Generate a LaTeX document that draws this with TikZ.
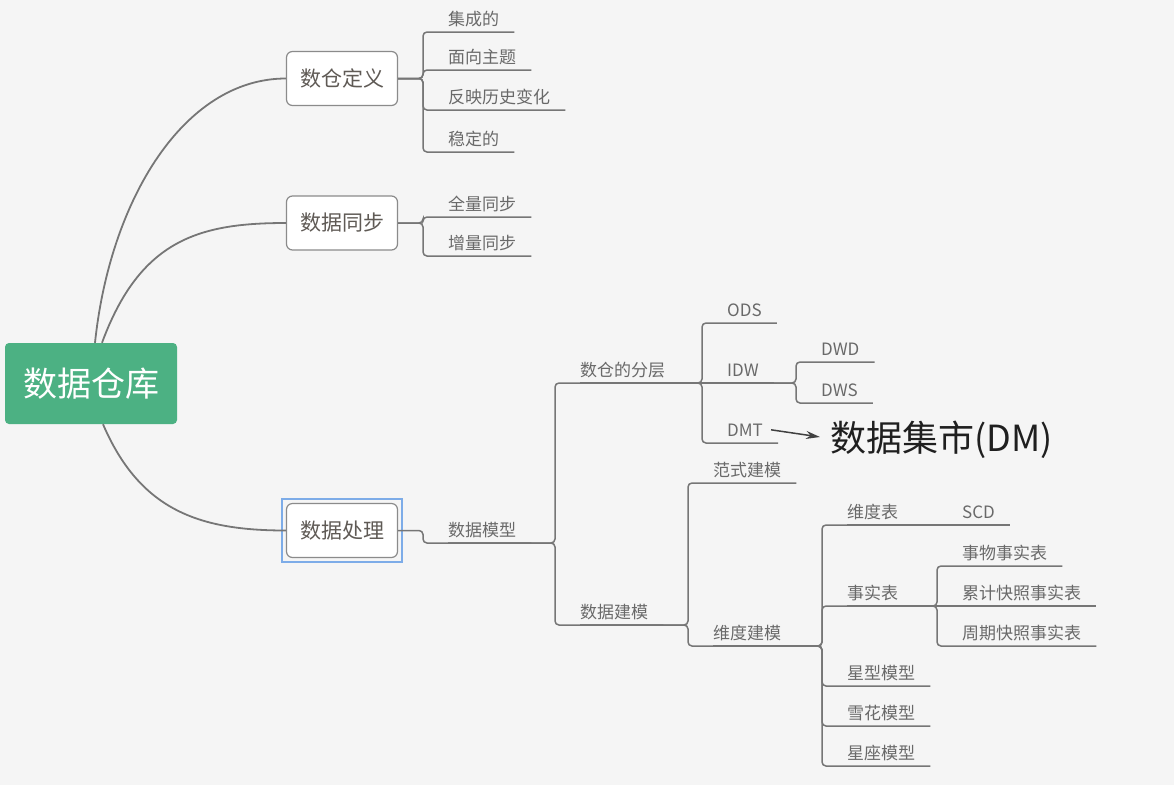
\documentclass[tikz,border=0pt]{standalone}
\usepackage{fontspec}
\setmainfont{Noto Sans CJK SC}
\usepackage{tikz}
\usetikzlibrary{arrows.meta}
\definecolor{bggray}{RGB}{245,245,245}
\definecolor{rootgreen}{RGB}{76,177,131}
\definecolor{linegray}{RGB}{118,118,118}
\definecolor{textgray}{RGB}{105,105,105}
\definecolor{boxtext}{RGB}{95,90,85}
\definecolor{selblue}{RGB}{125,172,232}

\begin{document}
\begin{tikzpicture}[x=1pt, y=-1pt,
  rootbox/.style={fill=rootgreen, rounded corners=4pt, minimum width=172pt, minimum height=81pt, text=white, font=\fontsize{34}{34}\selectfont},
  topic/.style={draw=linegray!85, line width=1.2pt, fill=white, rounded corners=6pt, minimum width=111pt, minimum height=54pt, text=boxtext, font=\fontsize{21}{21}\selectfont},
  leaf/.style={anchor=south west, inner xsep=0pt, inner ysep=3pt, text height=13pt, text depth=3pt, text=textgray, font=\fontsize{17}{17}\selectfont},
  curve/.style={draw=linegray, line width=1.8pt},
  link/.style={draw=linegray, line width=1.5pt, rounded corners=4pt},
]
\fill[bggray] (0,0) rectangle (1174,785);

\node[rootbox] (root) at (91,383.5) {数据仓库};
\node[topic] (dd) at (342,78.5) {数仓定义};
\node[topic] (ds) at (342,223) {数据同步};
\node[topic] (dp) at (342,530.5) {数据处理};
\draw[selblue, line width=1.5pt] ([xshift=-4pt,yshift=-4pt]dp.south west) rectangle ([xshift=4pt,yshift=4pt]dp.north east);

\draw[curve] ([xshift=4pt]root.north) .. controls +(15,-143) and +(-102,0) .. (dd.west);
\draw[curve] ([xshift=11pt]root.north) .. controls +(38,-103) and +(-87,0) .. (ds.west);
\draw[curve] ([xshift=12pt]root.south) .. controls +(37,86) and +(-87,0) .. (dp.west);

% level 2
\node[leaf] (jc) at (448,32) {集成的};
\node[leaf] (mxzt) at (448,70) {面向主题};
\node[leaf] (fybh) at (448,110) {反映历史变化};
\node[leaf] (wdd) at (448,152) {稳定的};
\node[leaf] (qltb) at (448,217) {全量同步};
\node[leaf] (zltb) at (448,256) {增量同步};
\node[leaf] (sjmx) at (448,543) {数据模型};

% level 3
\node[leaf] (fc) at (580,383) {数仓的分层};
\node[leaf] (sjjm) at (580,625) {数据建模};
\node[leaf] (ods) at (727,323) {ODS};
\node[leaf] (idw) at (727,383) {IDW};
\node[leaf] (dmt) at (727,443) {DMT};
\node[leaf] (dwd) at (821,362) {DWD};
\node[leaf] (dws) at (821,403) {DWS};
\node[leaf] (fsjm) at (713,483) {范式建模};
\node[leaf] (wdjm) at (713,646) {维度建模};

% dimensional modelling
\node[leaf] (wdb) at (847,525) {维度表};
\node[leaf] (ssb) at (847,606) {事实表};
\node[leaf] (xxmx) at (847,686) {星型模型};
\node[leaf] (xhmx) at (847,726) {雪花模型};
\node[leaf] (xzmx) at (847,766) {星座模型};
\node[leaf] (scd) at (962,525) {SCD};
\node[leaf] (swss) at (962,566) {事物事实表};
\node[leaf] (ljkz) at (962,606) {累计快照事实表};
\node[leaf] (zqkz) at (962,646) {周期快照事实表};

\foreach \p/\c in {dd.east/jc, dd.east/mxzt, dd.east/fybh, dd.east/wdd,
    ds.east/qltb, ds.east/zltb, dp.east/sjmx,
    sjmx.south west/fc, sjmx.south west/sjjm,
    fc.south west/ods, fc.south west/dmt,
    idw.south west/dwd, idw.south west/dws,
    sjjm.south west/fsjm, sjjm.south west/wdjm,
    wdjm.south west/wdb, wdjm.south west/ssb, wdjm.south west/xxmx,
    wdjm.south west/xhmx, wdjm.south west/xzmx,
    ssb.south west/swss, ssb.south west/zqkz}
  \draw[link] (\p) -| ([xshift=-25pt]\c.south west) -- ([xshift=15pt]\c.south east);
% children on the same line as their parent
\foreach \p/\c in {fc/idw, wdb/scd, ssb/ljkz}
  \draw[link] (\p.south west) -- ([xshift=15pt]\c.south east);

\node[anchor=west, inner sep=0pt, text=black!88, font=\fontsize{36}{36}\selectfont] (dm) at (830,440) {数据集市(DM)};
\draw[black!75, line width=1.5pt, -{Stealth[length=14pt,width=8pt]}] ([xshift=8pt,yshift=2pt]dmt.east) -- ([xshift=-10pt,yshift=3pt]dm.west);
\end{tikzpicture}
\end{document}
